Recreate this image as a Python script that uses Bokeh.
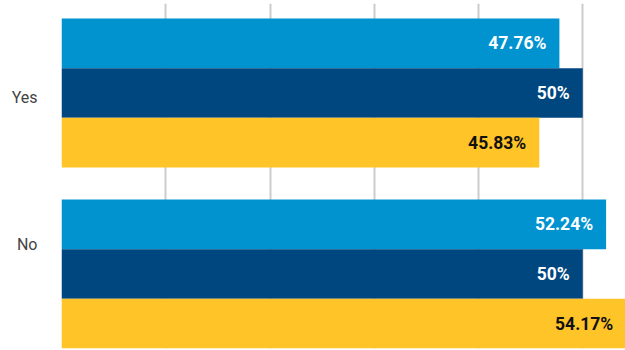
from bokeh.plotting import figure
from bokeh.models import ColumnDataSource, Range1d, FixedTicker
from bokeh.core.properties import value
from bokeh.embed import file_html
from bokeh.resources import INLINE

categories = ["Yes", "No"]
series_names = ["Series A", "Series B", "Series C"]
series_a = [47.76, 52.24]
series_b = [50.0, 50.0]
series_c = [45.83, 54.17]
all_series = [series_a, series_b, series_c]

colors = ["#0093D0", "#00467F", "#FFC428"]
text_colors = ["#FFFFFF", "#FFFFFF", "#111111"]

BAR_H = 0.2746          # bar thickness in category units
LABEL_SHIFT = [0.025, -0.163]  # where the category labels sit relative to group centres

def fmt(v):
    s = ("%.2f" % v).rstrip("0").rstrip(".")
    return s + "%"

p = figure(width=625, height=350, output_backend="svg", toolbar_location=None,
           x_range=Range1d(0, 54.1), y_range=Range1d(1.4116, -0.4945))
p.min_border_left = 61
p.min_border_right = 0
p.min_border_top = 3
p.min_border_bottom = 2
p.outline_line_color = None
p.background_fill_color = "white"
p.border_fill_color = "white"

p.xaxis.visible = False
p.xgrid.ticker = FixedTicker(ticks=[0, 10, 20, 30, 40, 50])
p.xgrid.grid_line_color = "#CCCCCC"
p.xgrid.grid_line_width = 2
p.ygrid.visible = False

for j, (vals, col, tcol, name) in enumerate(zip(all_series, colors, text_colors, series_names)):
    ys = [i + (j - 1) * BAR_H for i in range(len(categories))]
    src = ColumnDataSource(dict(y=ys, v=vals, lab=[fmt(v) for v in vals],
                                cat=categories))
    p.hbar(y="y", left=0, right="v", height=BAR_H, source=src,
           fill_color=col, line_color=None, name=name)
    p.text(x="v", y="y", text="lab", source=src, x_offset=-13,
           text_align="right", text_baseline="middle",
           text_font=value("Roboto"), text_font_style="bold",
           text_font_size="17.5px", text_color=tcol)

ax = p.yaxis[0]
ax.ticker = FixedTicker(ticks=[i + LABEL_SHIFT[i] for i in range(len(categories))])
ax.major_label_overrides = {i + LABEL_SHIFT[i]: c for i, c in enumerate(categories)}
ax.axis_line_color = None
ax.major_tick_line_color = None
ax.minor_tick_line_color = None
ax.major_tick_out = 0
ax.major_tick_in = 0
ax.major_label_standoff = 24
ax.major_label_text_font = "Roboto"
ax.major_label_text_font_size = "16px"
ax.major_label_text_color = "#444444"

open("out.html", "w").write(file_html(p, INLINE))
